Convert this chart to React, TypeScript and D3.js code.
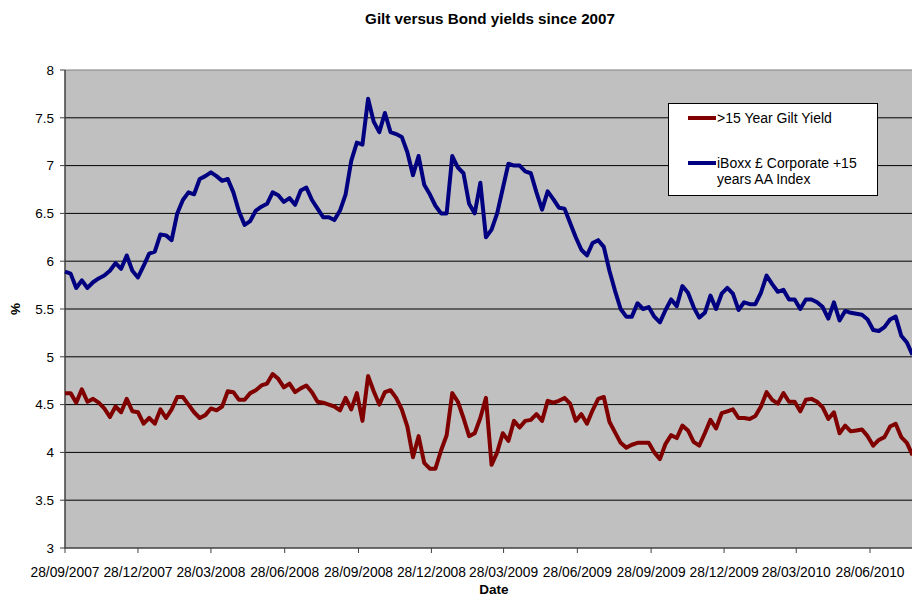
import React from "react";
import * as d3 from "d3";

const START_DATE = "28/09/2007";

// weekly observations (Fridays) starting 28/09/2007
const giltYield: number[] = [
  4.62, 4.62, 4.52, 4.66, 4.53, 4.56, 4.52, 4.46, 4.37, 4.48,
  4.42, 4.56, 4.43, 4.42, 4.30, 4.36, 4.30, 4.45, 4.36, 4.45,
  4.58, 4.58, 4.50, 4.42, 4.36, 4.39, 4.46, 4.44, 4.48, 4.64,
  4.63, 4.55, 4.55, 4.62, 4.65, 4.70, 4.72, 4.82, 4.77, 4.68,
  4.72, 4.63, 4.67, 4.70, 4.63, 4.53, 4.52, 4.50, 4.48, 4.44,
  4.57, 4.45, 4.62, 4.33, 4.80, 4.64, 4.50, 4.63, 4.65, 4.57,
  4.45, 4.27, 3.95, 4.17, 3.89, 3.83, 3.83, 4.02, 4.18, 4.62,
  4.53, 4.36, 4.17, 4.20, 4.36, 4.57, 3.87, 4.00, 4.20, 4.12,
  4.33, 4.26, 4.33, 4.34, 4.40, 4.33, 4.54, 4.52, 4.54, 4.57,
  4.51, 4.33, 4.40, 4.30, 4.44, 4.56, 4.58, 4.32, 4.21, 4.10,
  4.05, 4.08, 4.10, 4.10, 4.10, 4.00, 3.93, 4.09, 4.18, 4.15,
  4.28, 4.23, 4.11, 4.07, 4.20, 4.34, 4.25, 4.41, 4.43, 4.45,
  4.36, 4.36, 4.35, 4.38, 4.48, 4.63, 4.55, 4.51, 4.62, 4.53,
  4.53, 4.43, 4.55, 4.56, 4.53, 4.47, 4.35, 4.42, 4.20, 4.28,
  4.22, 4.23, 4.24, 4.17, 4.07, 4.13, 4.16, 4.27, 4.30, 4.16,
  4.10, 3.97,
];

const iboxxYield: number[] = [
  5.89, 5.87, 5.72, 5.80, 5.72, 5.78, 5.82, 5.85, 5.90, 5.98,
  5.92, 6.06, 5.90, 5.83, 5.95, 6.08, 6.10, 6.28, 6.27, 6.22,
  6.50, 6.64, 6.72, 6.70, 6.86, 6.89, 6.93, 6.89, 6.84, 6.86,
  6.72, 6.52, 6.38, 6.42, 6.53, 6.57, 6.60, 6.72, 6.69, 6.62,
  6.66, 6.59, 6.74, 6.77, 6.64, 6.55, 6.46, 6.46, 6.43, 6.53,
  6.70, 7.05, 7.24, 7.22, 7.70, 7.46, 7.35, 7.55, 7.35, 7.33,
  7.30, 7.14, 6.90, 7.10, 6.80, 6.70, 6.58, 6.50, 6.50, 7.10,
  6.98, 6.92, 6.60, 6.50, 6.82, 6.25, 6.33, 6.50, 6.76, 7.02,
  7.00, 7.00, 6.94, 6.92, 6.72, 6.54, 6.73, 6.65, 6.56, 6.55,
  6.40, 6.25, 6.12, 6.06, 6.19, 6.22, 6.15, 5.90, 5.69, 5.50,
  5.42, 5.42, 5.56, 5.50, 5.52, 5.42, 5.36, 5.49, 5.60, 5.53,
  5.74, 5.67, 5.52, 5.41, 5.46, 5.64, 5.50, 5.66, 5.72, 5.66,
  5.49, 5.57, 5.55, 5.55, 5.67, 5.85, 5.76, 5.68, 5.70, 5.60,
  5.60, 5.50, 5.60, 5.60, 5.57, 5.52, 5.40, 5.57, 5.38, 5.48,
  5.46, 5.45, 5.44, 5.39, 5.28, 5.27, 5.31, 5.39, 5.42, 5.22,
  5.15, 5.02,
];

const tickLabels: string[] = [
  "28/09/2007", "28/12/2007", "28/03/2008", "28/06/2008",
  "28/09/2008", "28/12/2008", "28/03/2009", "28/06/2009",
  "28/09/2009", "28/12/2009", "28/03/2010", "28/06/2010",
];

const yTicks: number[] = [3, 3.5, 4, 4.5, 5, 5.5, 6, 6.5, 7, 7.5, 8];

const seriesNames: string[] = [">15 Year Gilt Yield", "iBoxx £ Corporate +15", "years AA Index"];

const W = 912;
const H = 598;
const FONT = "'Liberation Sans', Arial, sans-serif";

export default function App() {
  const parse = d3.timeParse("%d/%m/%Y");
  const start = parse(START_DATE) as Date;
  const dates = giltYield.map((_, i) => d3.timeDay.offset(start, i * 7));

  const left = 65, right = 912.5, top = 70, bottom = 548;
  const x = d3.scaleTime().domain([start, dates[dates.length - 1]]).range([left, right]);
  const y = d3.scaleLinear().domain([3, 8]).range([bottom, top]);

  const line = d3
    .line<number>()
    .x((_, i) => x(dates[i]))
    .y((d) => y(d));

  const ticks = tickLabels.map((t) => ({ label: t, x: x(parse(t) as Date) }));

  return (
    <svg
      width={W}
      height={H}
      style={{ position: "absolute", left: 0, top: 0, background: "#fff" }}
      fontFamily={FONT}
    >
      <text x={490} y={24} textAnchor="middle" fontSize={15.2} fontWeight="bold">
        Gilt versus Bond yields since 2007
      </text>

      <rect x={left} y={top} width={W - left} height={bottom - top} fill="#C0C0C0" />
      {yTicks.map((v) =>
        v === 3 ? null : (
          <line key={v} x1={left} x2={W} y1={y(v)} y2={y(v)} stroke={v === 8 ? "#808080" : "#000"} strokeWidth={1} />
        )
      )}

      {/* axes */}
      <line x1={left} x2={left} y1={top} y2={bottom + 0.5} stroke="#404040" strokeWidth={1.5} />
      <line x1={left} x2={W} y1={bottom} y2={bottom} stroke="#404040" strokeWidth={1.5} />
      {yTicks.map((v) => (
        <g key={"yt" + v}>
          <line x1={left - 5} x2={left} y1={y(v)} y2={y(v)} stroke="#404040" strokeWidth={1} />
          <text x={54} y={y(v)} dy="0.35em" textAnchor="end" fontSize={13.5} fill="#000">
            {v}
          </text>
        </g>
      ))}
      {ticks.map((t) => (
        <g key={t.label}>
          <line x1={t.x} x2={t.x} y1={bottom} y2={bottom + 5} stroke="#404040" strokeWidth={1} />
          <text x={t.x} y={577} textAnchor="middle" fontSize={13.8} fill="#000">
            {t.label}
          </text>
        </g>
      ))}

      <text x={494} y={594} textAnchor="middle" fontSize={13.5} fontWeight="bold">
        Date
      </text>
      <text
        transform={`translate(20,309) rotate(-90)`}
        textAnchor="middle"
        fontSize={13.5}
        fontWeight="bold"
      >
        %
      </text>

      <path d={line(giltYield) || ""} fill="none" stroke="#800000" strokeWidth={4} strokeLinejoin="round" />
      <path d={line(iboxxYield) || ""} fill="none" stroke="#000080" strokeWidth={4} strokeLinejoin="round" />

      {/* legend */}
      <rect x={668.5} y={103.5} width={209} height={92} fill="#fff" stroke="#000" strokeWidth={1} />
      <line x1={688} x2={716} y1={118} y2={118} stroke="#800000" strokeWidth={4} />
      <text x={717} y={123} fontSize={14}>
        {seriesNames[0]}
      </text>
      <line x1={688} x2={716} y1={163} y2={163} stroke="#000080" strokeWidth={4} />
      <text x={717} y={168} fontSize={14}>
        {seriesNames[1]}
      </text>
      <text x={717} y={184} fontSize={14}>
        {seriesNames[2]}
      </text>
    </svg>
  );
}
